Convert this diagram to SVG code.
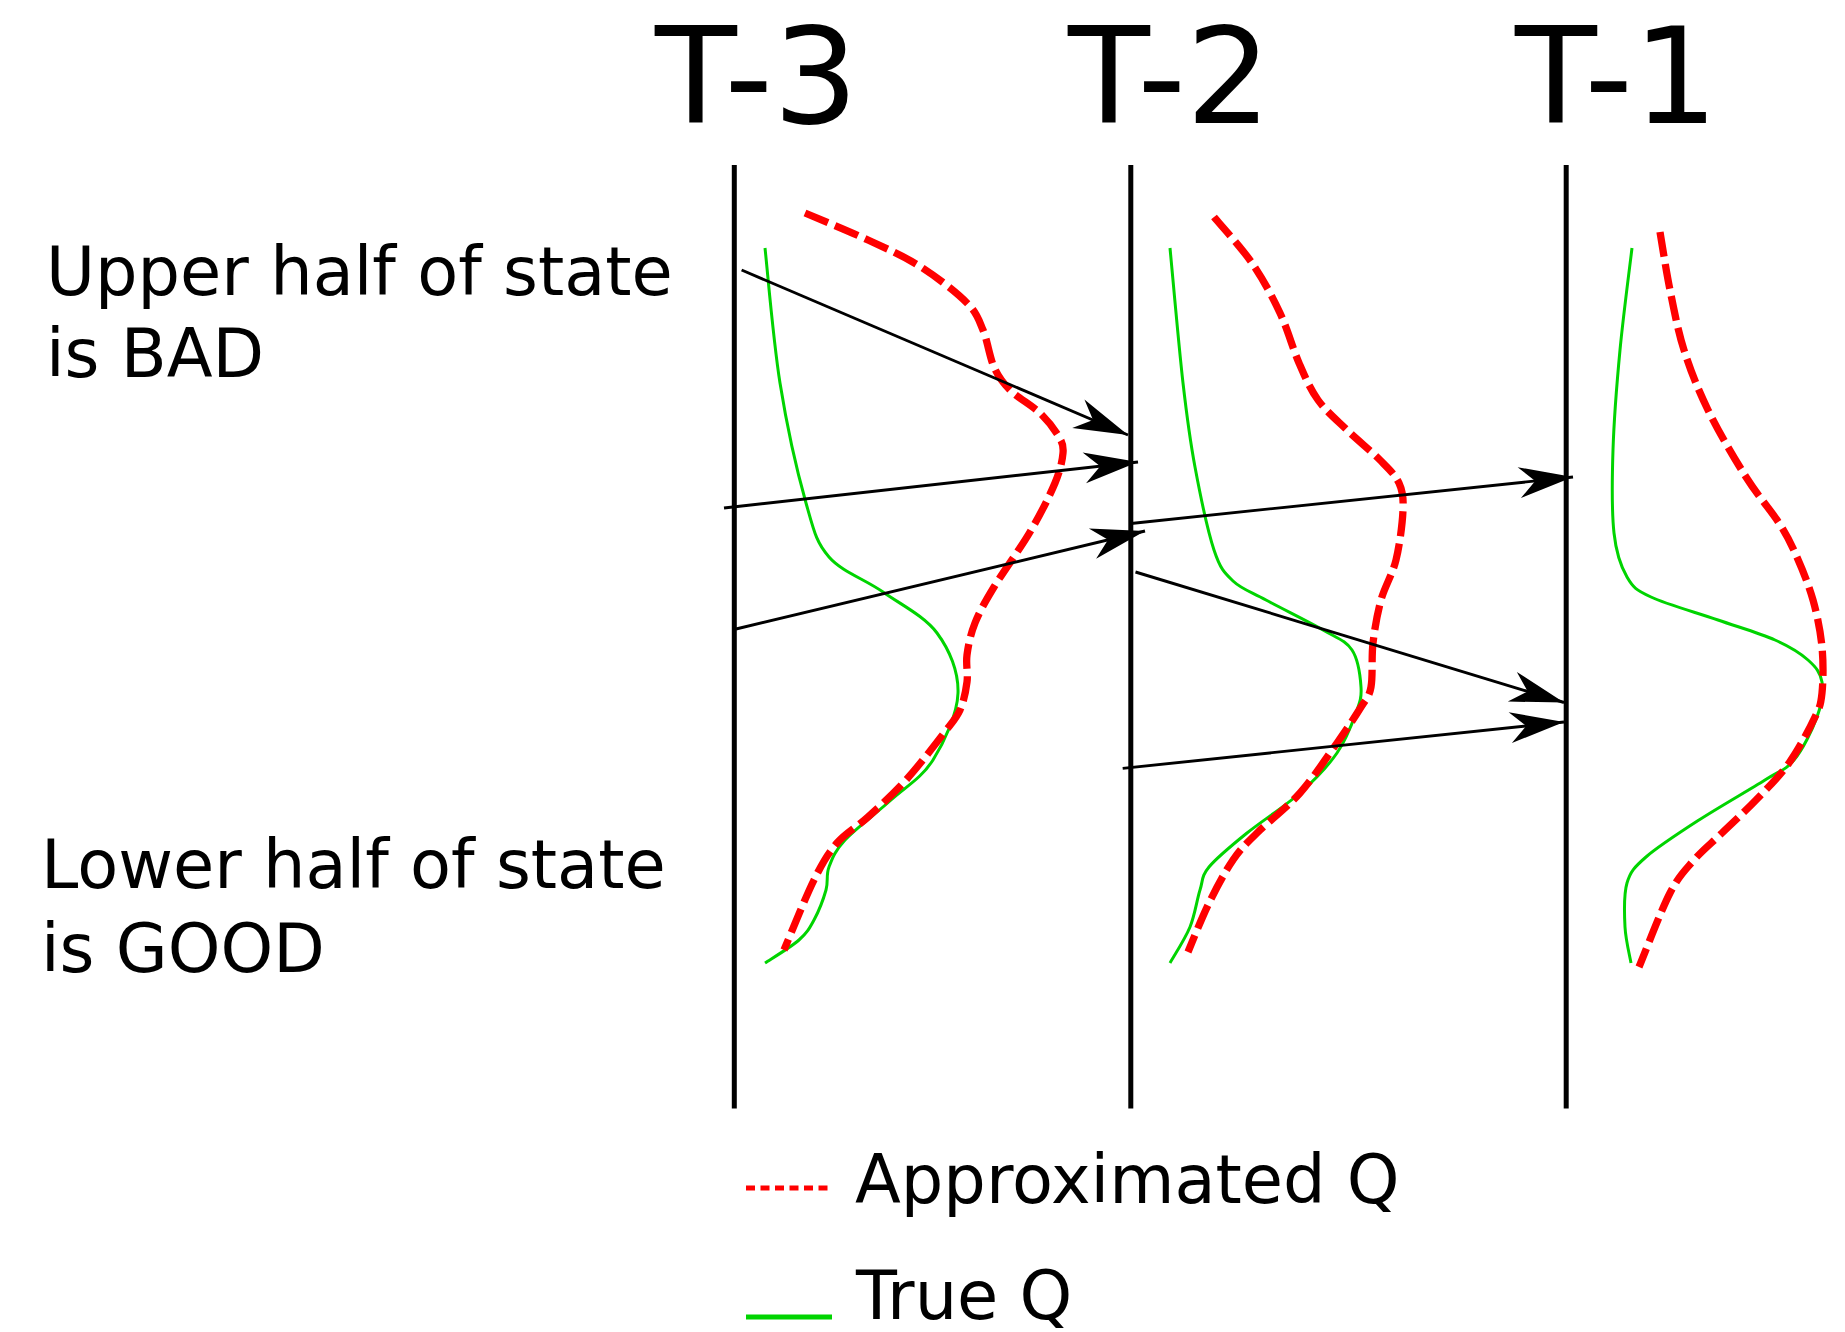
<svg xmlns="http://www.w3.org/2000/svg" width="1845" height="1332" viewBox="0 0 1845 1332">
<style>
text{font-family:"DejaVu Sans","Liberation Sans",sans-serif;fill:#000}
.title{font-size:134px}
.lbl{font-size:67px}
.leg{font-size:67px}
.axis{stroke:#000;stroke-width:5;fill:none}
.trueq{stroke:#00d400;stroke-width:3;fill:none}
.approx{stroke:#f00;stroke-width:7.3;fill:none;stroke-dasharray:25,7.5}
.arrow{stroke:#000;stroke-width:2.9;fill:none;marker-end:url(#ah)}
</style>
<defs>
<marker id="ah" markerUnits="userSpaceOnUse" orient="auto" refX="0" refY="0" markerWidth="60" markerHeight="40" overflow="visible">
<path d="M0,0 L-54,-15.5 L-38,0 L-54,15.5 Z" fill="#000"/>
</marker>
</defs>
<rect width="1845" height="1332" fill="#fff"/>
<g id="titles">
<text class="title" x="655" y="123">T-3</text>
<text class="title" x="1068" y="123">T-2</text>
<text class="title" x="1515" y="123">T-1</text>
</g>
<g id="labels">
<text class="lbl" x="46" y="295">Upper half of state</text>
<text class="lbl" x="46" y="376.7">is BAD</text>
<text class="lbl" x="41" y="888.3">Lower half of state</text>
<text class="lbl" x="41" y="971.7">is GOOD</text>
</g>
<g id="axes">
<line class="axis" x1="734.3" y1="165" x2="734.3" y2="1108.5"/>
<line class="axis" x1="1130.8" y1="165" x2="1130.8" y2="1108.5"/>
<line class="axis" x1="1566.2" y1="165" x2="1566.2" y2="1108.5"/>
</g>
<g id="true-q">
<path class="trueq" d="M765,248 C767.5,270.5 773.2,340.5 780,383 S797.8,474 806,503 S816.2,542.2 829,557 S865,579.3 883,592 S924.5,616.2 937,633 S958.7,671.8 958,693 S944.2,742.2 933,760 S905.7,786.7 891,800 S855.3,828.8 845,840 S832.2,858.7 829,867 S828.5,881.2 826,890 S818.5,911.7 814,920 S807.2,932.8 799,940 S770.7,959.2 765,963"/>
<path class="trueq" d="M1170,248 C1172.2,270.5 1178.8,346.5 1183,383 S1189.8,439.2 1195,467 S1207.7,531 1214,550 S1224.3,572.7 1233,581 S1251,591.8 1266,600 S1308.7,621.7 1323,630 S1345.7,640.5 1352,650 S1360.3,676.5 1361,687 S1360,702 1356,713 S1346.3,739.7 1337,753 S1315,779.7 1300,793 S1262.2,820.7 1247,833 S1216.8,857.5 1209,867 S1203.2,880 1200,890 S1195,914.8 1190,927 S1173.3,957 1170,963"/>
<path class="trueq" d="M1632,248 C1630,265 1623.2,316.3 1620,350 S1614,419.5 1613,450 S1611.7,511.8 1614,533 S1620.8,566.3 1627,577 S1635.8,589.8 1651,597 S1697.3,612.8 1718,620 S1760,633.3 1775,640 S1800.2,653 1808,660 S1820.5,672.5 1822,682 S1821.7,704 1817,717 S1802.7,749.5 1794,760 S1780.8,770 1765,780 S1718.8,807.2 1699,820 S1658,846.5 1646,857 S1630.5,871.3 1627,883 S1624.3,913.7 1625,927 S1630,957 1631,963"/>
</g>
<g id="approx-q">
<path class="approx" d="M805,213 C815.5,217.5 848.7,231 868,240 S904.5,256.5 921,267 S956.7,292.5 967,303 S978.5,319.3 983,330 S989.5,357 994,367 S1002.3,382.3 1010,390 S1031.8,405.2 1040,413 S1055.2,430.3 1059,437 S1063.7,445.3 1063,453 S1060.5,469.8 1055,483 S1040.2,514.7 1030,532 S1003.2,571.8 994,587 S979.5,611.7 975,623 S968.3,645.2 967,655 S968.2,672.8 967,682 S963.8,701.5 960,710 S953,721.3 944,733 S918.7,766 906,780 S879.5,806.5 868,817 S846,832.5 837,843 S822.8,862.2 814,880 S789,938.3 784,950"/>
<path class="approx" d="M1214,217 C1220.3,224.7 1241,247 1252,263 S1272.2,296.3 1280,313 S1292.7,348.5 1299,363 S1310,388.8 1318,400 S1336.7,420 1347,430 S1371.3,451.2 1380,460 S1395.2,474.7 1399,483 S1403.5,497.2 1403,510 S1399.7,545 1396,560 S1384.8,586.2 1381,600 S1374.7,628.5 1373,643 S1373,676.3 1371,687 S1366.7,697.7 1361,707 S1347.2,728.7 1337,743 S1313.3,778 1300,793 S1268.2,821.8 1257,833 S1241,848.3 1233,860 S1216.5,887.7 1209,903 S1191.5,943.8 1188,952"/>
<path class="approx" d="M1660,232 C1661.7,241.7 1666,270.3 1670,290 S1677.7,330 1684,350 S1697.7,388.8 1708,410 S1734.2,458.2 1746,477 S1770.7,510 1779,523 S1790.3,542.2 1796,555 S1808.7,584.7 1813,600 S1820.5,631.5 1822,647 S1823.2,681.3 1822,693 S1820.5,705.3 1815,717 S1798.8,749.2 1789,763 S1767.2,788.3 1756,800 S1732.3,823 1722,833 S1702.7,850 1694,860 S1679.2,875.2 1670,893 S1644.2,954.7 1639,967"/>
</g>
<g id="connectors">
<line class="arrow" x1="741.6" y1="270" x2="1128" y2="435"/>
<line class="arrow" x1="724" y1="508" x2="1138" y2="462"/>
<line class="arrow" x1="736" y1="629" x2="1145" y2="531"/>
<line class="arrow" x1="1131" y1="523.5" x2="1573" y2="477"/>
<line class="arrow" x1="1135.5" y1="572" x2="1564" y2="702.5"/>
<line class="arrow" x1="1122.7" y1="768.4" x2="1564" y2="722"/>
</g>
<g id="legend">
<line x1="746" y1="1188" x2="832" y2="1188" stroke="#f00" stroke-width="5" stroke-dasharray="9,5.5"/>
<text class="leg" x="855" y="1202.7">Approximated Q</text>
<line x1="746" y1="1317" x2="832" y2="1317" stroke="#00d400" stroke-width="5"/>
<text class="leg" x="856" y="1319">True Q</text>
</g>
</svg>
